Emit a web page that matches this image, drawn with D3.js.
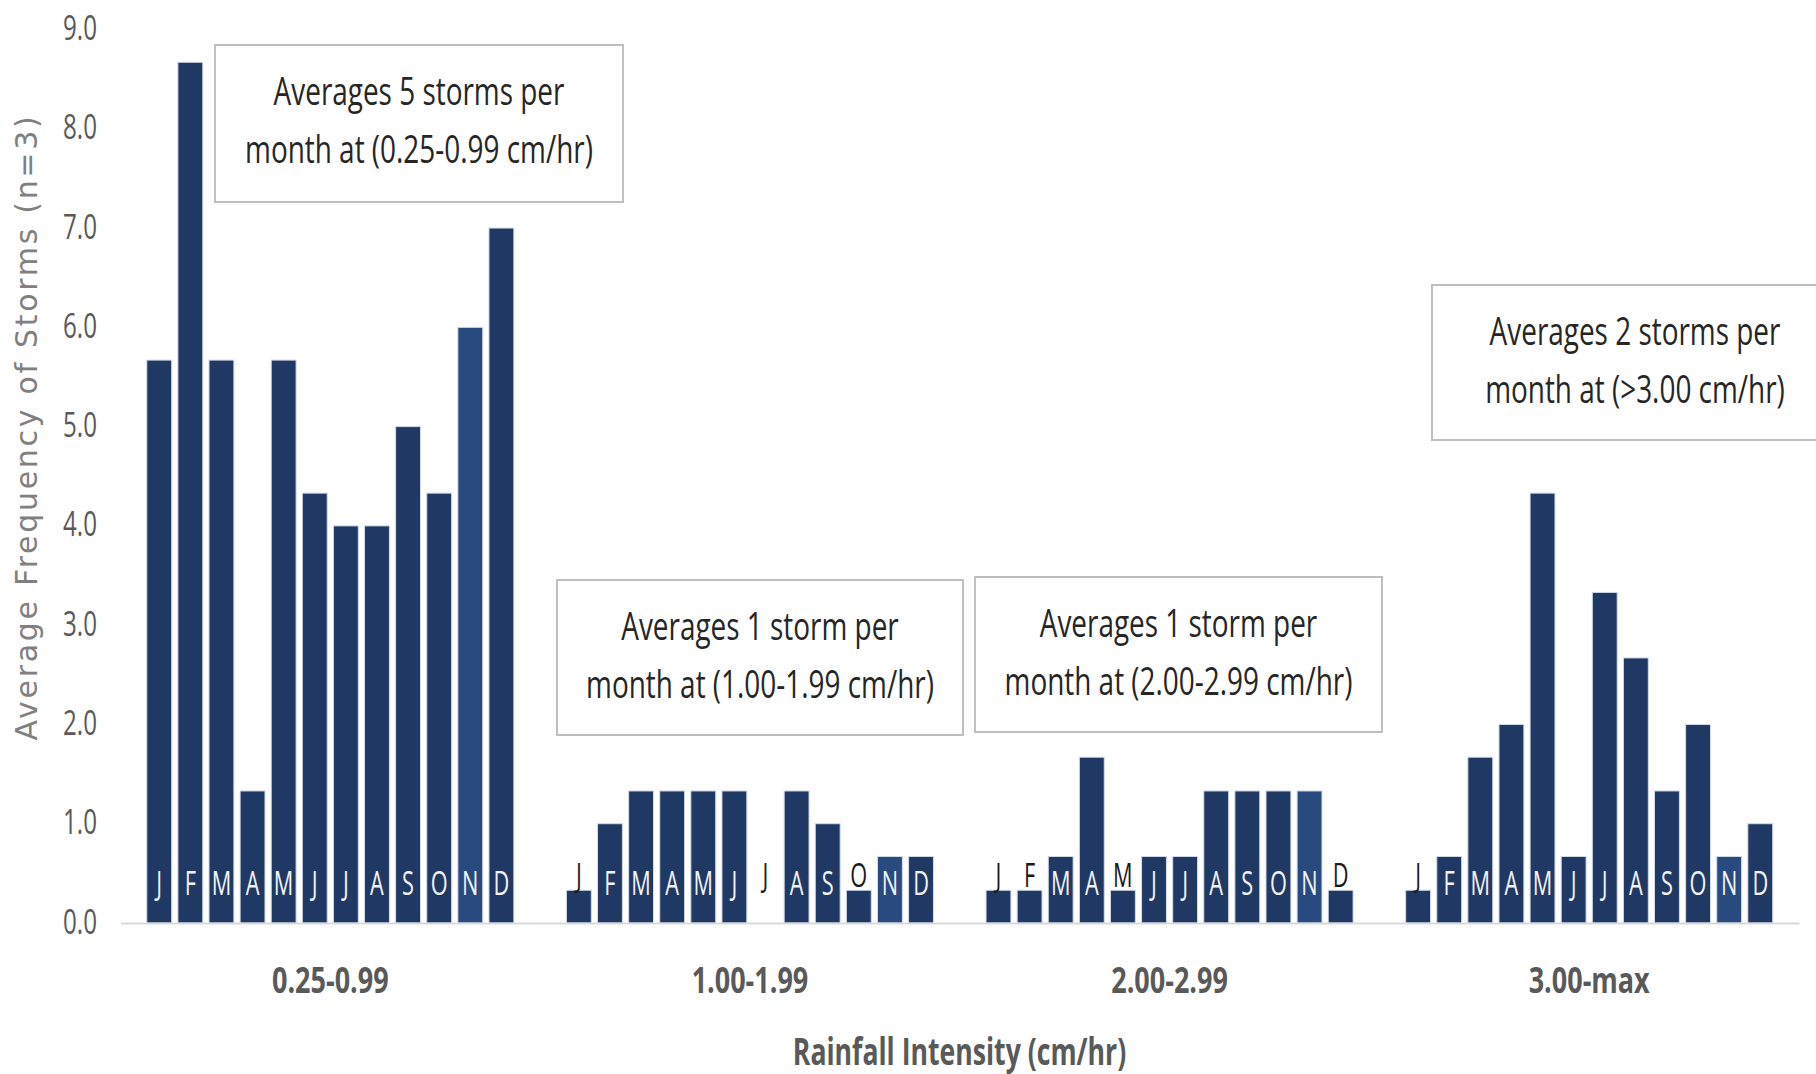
<!DOCTYPE html>
<html>
<head>
<meta charset="utf-8">
<script src="https://cdn.jsdelivr.net/npm/d3@7"></script>
<style>
  html, body { margin: 0; padding: 0; background: #ffffff; }
  svg { display: block; }
</style>
</head>
<body>
<svg id="chart" width="1816" height="1074"></svg>
<script>
// Rainfall intensity classes (x categories)
const categories = ["0.25-0.99", "1.00-1.99", "2.00-2.99", "3.00-max"];

// Month initials shown on each bar
const monthLabels = ["J", "F", "M", "A", "M", "J", "J", "A", "S", "O", "N", "D"];

// Average number of storms per month (n = 3 years), one array per intensity class
const freq025 = [5.67, 8.67, 5.67, 1.33, 5.67, 4.33, 4.00, 4.00, 5.00, 4.33, 6.00, 7.00];
const freq100 = [0.33, 1.00, 1.33, 1.33, 1.33, 1.33, 0.00, 1.33, 1.00, 0.33, 0.67, 0.67];
const freq200 = [0.33, 0.33, 0.67, 1.67, 0.33, 0.67, 0.67, 1.33, 1.33, 1.33, 1.33, 0.33];
const freq300 = [0.33, 0.67, 1.67, 2.00, 4.33, 0.67, 3.33, 2.67, 1.33, 2.00, 0.67, 1.00];

// Y axis ticks
const yTicks = [0, 1, 2, 3, 4, 5, 6, 7, 8, 9];

// Callout text, one per intensity class
const noteLines = [
  ["Averages 5 storms per", "month at (0.25-0.99 cm/hr)"],
  ["Averages 1 storm per", "month at (1.00-1.99 cm/hr)"],
  ["Averages 1 storm per", "month at (2.00-2.99 cm/hr)"],
  ["Averages 2 storms per", "month at (>3.00 cm/hr)"]
];

// ---- layout ----
const plot = { left: 120.5, right: 1799, top: 29.5, bottom: 923 };
const notePlacement = [
  { x: 215,  y: 45,  w: 408, h: 157 },
  { x: 557,  y: 580, w: 406, h: 155 },
  { x: 975,  y: 577, w: 407, h: 155 },
  { x: 1432, y: 285, w: 406, h: 155 }
];
const barColor = "#203864";
const novColor = "#284a7e";
const textFont = "'Open Sans', 'Noto Sans', sans-serif";

const svg = d3.select("#chart");

const x = d3.scaleBand().domain(categories).range([plot.left, plot.right]).padding(0);
const xm = d3.scaleBand().domain(d3.range(monthLabels.length))
  .range([0, x.bandwidth()]).paddingInner(0.2).paddingOuter(0.845);
const y = d3.scaleLinear().domain([0, 9]).range([plot.bottom, plot.top]);

const series = [freq025, freq100, freq200, freq300];
const rows = categories.flatMap((c, ci) =>
  series[ci].map((v, mi) => ({ cat: c, mi, v, label: monthLabels[mi] })));

// ---- bars ----
svg.append("g").attr("class", "bars")
  .selectAll("rect")
  .data(rows.filter(d => d.v > 0))
  .join("rect")
  .attr("x", d => x(d.cat) + xm(d.mi))
  .attr("y", d => y(d.v))
  .attr("width", xm.bandwidth())
  .attr("height", d => y(0) - y(d.v))
  .attr("fill", d => d.mi === 10 ? novColor : barColor)
  .attr("stroke", "#d3dbe8")
  .attr("stroke-width", 1);

// ---- month labels on bars ----
const labelScale = 0.68;
svg.append("g").attr("class", "month-labels")
  .selectAll("text")
  .data(rows)
  .join("text")
  .attr("transform", d => {
    const cx = x(d.cat) + xm(d.mi) + xm.bandwidth() / 2;
    const by = d.v >= 0.5 ? y(0) - 28 : y(0) - 36;
    return `translate(${cx},${by}) scale(${labelScale},1)`;
  })
  .attr("text-anchor", "middle")
  .attr("font-family", textFont)
  .attr("font-size", 32)
  .attr("fill", d => d.v >= 0.5 ? "#f2f2f2" : "#1a1a1a")
  .text(d => d.label);

// ---- y axis (labels only) ----
const tickScale = 0.69;
const yAxis = svg.append("g")
  .attr("transform", `translate(97,0)`)
  .call(d3.axisLeft(y).tickValues(yTicks).tickFormat(d3.format(".1f")).tickSize(0).tickPadding(0));
yAxis.select(".domain").remove();
yAxis.selectAll("text")
  .attr("x", 0)
  .attr("dy", null)
  .attr("y", 10)
  .attr("transform", `scale(${tickScale},1)`)
  .attr("font-family", textFont)
  .attr("font-size", 35)
  .attr("fill", "#595959");

// ---- x axis (category labels + baseline) ----
const catScale = 0.75;
const xAxis = svg.append("g")
  .attr("transform", `translate(0,${plot.bottom})`)
  .call(d3.axisBottom(x).tickSize(0).tickPadding(0));
xAxis.select(".domain")
  .attr("stroke", "#d9d9d9")
  .attr("stroke-width", 2);
xAxis.selectAll("text")
  .attr("dy", null)
  .attr("y", 70)
  .attr("transform", `scale(${catScale},1)`)
  .attr("font-family", textFont)
  .attr("font-weight", 700)
  .attr("font-size", 36)
  .attr("fill", "#595959");

// ---- axis titles ----
svg.append("text")
  .attr("transform", `translate(959.5,1065) scale(0.72,1)`)
  .attr("text-anchor", "middle")
  .attr("font-family", textFont)
  .attr("font-weight", 700)
  .attr("font-size", 37)
  .attr("fill", "#595959")
  .text("Rainfall Intensity (cm/hr)");

svg.append("text")
  .attr("transform", `translate(37,427) rotate(-90)`)
  .attr("text-anchor", "middle")
  .attr("font-family", "'DejaVu Sans', sans-serif")
  .attr("font-size", 30)
  .attr("letter-spacing", 2.7)
  .attr("fill", "#808080")
  .text("Average Frequency of Storms (n=3)");

// ---- callout boxes ----
const noteScale = 0.735;
const notes = svg.append("g").attr("class", "notes")
  .selectAll("g")
  .data(noteLines.map((lines, i) => ({ lines, box: notePlacement[i] })))
  .join("g");
notes.append("rect")
  .attr("x", d => d.box.x)
  .attr("y", d => d.box.y)
  .attr("width", d => d.box.w)
  .attr("height", d => d.box.h)
  .attr("fill", "#ffffff")
  .attr("stroke", "#bfbfbf")
  .attr("stroke-width", 2);
notes.each(function (d) {
  const g = d3.select(this);
  d.lines.forEach((line, li) => {
    g.append("text")
      .attr("transform", `translate(${d.box.x + d.box.w / 2},${d.box.y + 60 + li * 58}) scale(${noteScale},1)`)
      .attr("text-anchor", "middle")
      .attr("font-family", textFont)
      .attr("font-size", 38)
      .attr("fill", "#262626")
      .text(line);
  });
});
</script>
</body>
</html>
